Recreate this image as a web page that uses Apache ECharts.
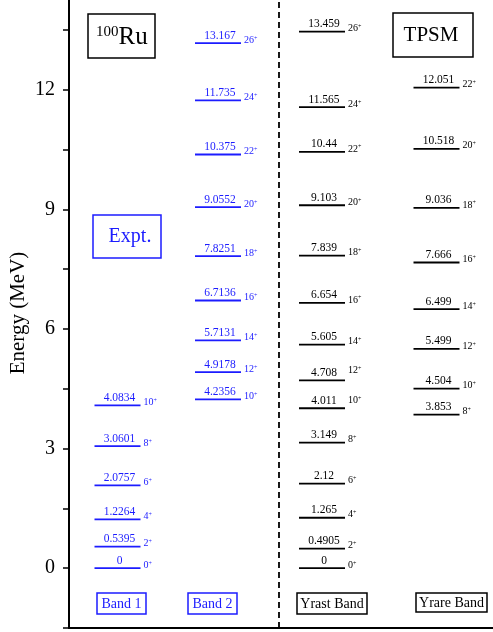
<!DOCTYPE html>
<html>
<head>
<meta charset="utf-8">
<script src="https://cdn.jsdelivr.net/npm/echarts@6/dist/echarts.min.js"></script>
<style>
html,body{margin:0;padding:0;background:#fff;}
#chart{width:493px;height:632px;}
</style>
</head>
<body>
<div id="chart"></div>
<script>
// ---- data ----
const band1Energy = [0, 0.5395, 1.2264, 2.0757, 3.0601, 4.0834];
const band1Spin   = [0, 2, 4, 6, 8, 10];
const band2Energy = [4.2356, 4.9178, 5.7131, 6.7136, 7.8251, 9.0552, 10.375, 11.735, 13.167];
const band2Spin   = [10, 12, 14, 16, 18, 20, 22, 24, 26];
const yrastEnergy = [0, 0.4905, 1.265, 2.12, 3.149, 4.011, 4.708, 5.605, 6.654, 7.839, 9.103, 10.44, 11.565, 13.459];
const yrastSpin   = [0, 2, 4, 6, 8, 10, 12, 14, 16, 18, 20, 22, 24, 26];
const yrareEnergy = [3.853, 4.504, 5.499, 6.499, 7.666, 9.036, 10.518, 12.051];
const yrareSpin   = [8, 10, 12, 14, 16, 18, 20, 22];
const yTicks = [0, 3, 6, 9, 12];
const yMinorTicks = [-1.5, 1.5, 4.5, 7.5, 10.5, 13.5];
const bandNames = ['Band 1', 'Band 2', 'Yrast Band', 'Yrare Band'];
const yAxisTitle = 'Energy (MeV)';

// ---- layout / style ----
const FONT = '"Liberation Serif", "Times New Roman", serif';
const BLUE = '#1c1cff';
const BLACK = '#000';
const colX = [48.5, 149, 253, 367.5];   // column centres on hidden x axis (px from y axis)
const divider = 210;
const HALF = 23;
// extra raise (px) for crowded spin labels: key "series:spin"
const spinNudge = {'2:12': -7, '2:10': -5};

function makeSeries(idx, energies, spins, color) {
  return {
    type: 'custom',
    coordinateSystem: 'cartesian2d',
    data: energies.map((e, i) => [colX[idx], e, spins[i]]),
    encode: {x: 0, y: 1},
    renderItem: function (params, api) {
      const e = api.value(1);
      const spin = api.value(2);
      const p = api.coord([api.value(0), e]);
      const nudge = spinNudge[idx + ':' + spin] || 0;
      return {
        type: 'group',
        children: [
          {type: 'line', shape: {x1: p[0] - HALF, y1: p[1], x2: p[0] + HALF, y2: p[1]},
           style: {stroke: color, lineWidth: 1.8}},
          {type: 'text', style: {text: String(e), x: p[0] + 2, y: p[1] - 1.5,
            align: 'center', verticalAlign: 'bottom', fill: color,
            font: '11.5px ' + FONT}},
          {type: 'text', style: {text: '{n|' + spin + '}{s|+}', x: p[0] + HALF + 3, y: p[1] - 3 + nudge,
            align: 'left', verticalAlign: 'middle', fill: color,
            rich: {
              n: {fontSize: 10, fontFamily: FONT, fill: color, verticalAlign: 'bottom'},
              s: {fontSize: 6, fontFamily: FONT, fill: color, verticalAlign: 'top'}
            }}}
        ]
      };
    }
  };
}

const chart = echarts.init(document.getElementById('chart'), null, {renderer: 'canvas'});

const boxStyle = (c) => ({fill: 'none', stroke: c, lineWidth: 1.5});
const graphics = [
  {type: 'text', x: 18, y: 313, rotation: Math.PI / 2,
   style: {x: 0, y: 0, text: yAxisTitle, align: 'center', verticalAlign: 'middle',
     font: '21px ' + FONT, fill: BLACK}},
  {type: 'rect', shape: {x: 88, y: 14, width: 67, height: 44}, style: boxStyle(BLACK)},
  {type: 'text', style: {x: 96, y: 50, text: '{a|100}{b|Ru}', align: 'left', verticalAlign: 'bottom',
    rich: {a: {fontSize: 15, fontFamily: FONT, fill: BLACK, verticalAlign: 'top'},
           b: {fontSize: 25, fontFamily: FONT, fill: BLACK, verticalAlign: 'bottom'}}}},
  {type: 'rect', shape: {x: 393, y: 13, width: 80, height: 44}, style: boxStyle(BLACK)},
  {type: 'text', style: {x: 431, y: 35, text: 'TPSM', align: 'center', verticalAlign: 'middle',
    font: '21px ' + FONT, fill: BLACK}},
  {type: 'rect', shape: {x: 93, y: 215, width: 68, height: 43}, style: boxStyle(BLUE)},
  {type: 'text', style: {x: 130, y: 237, text: 'Expt.', align: 'center', verticalAlign: 'middle',
    font: '20px ' + FONT, fill: BLUE}},
  {type: 'rect', shape: {x: 97, y: 593, width: 49, height: 21}, style: boxStyle(BLUE)},
  {type: 'text', style: {x: 121.5, y: 604, text: bandNames[0], align: 'center', verticalAlign: 'middle',
    font: '14px ' + FONT, fill: BLUE}},
  {type: 'rect', shape: {x: 188, y: 593, width: 49, height: 21}, style: boxStyle(BLUE)},
  {type: 'text', style: {x: 212.5, y: 604, text: bandNames[1], align: 'center', verticalAlign: 'middle',
    font: '14px ' + FONT, fill: BLUE}},
  {type: 'rect', shape: {x: 297, y: 593, width: 70, height: 21}, style: boxStyle(BLACK)},
  {type: 'text', style: {x: 332, y: 604, text: bandNames[2], align: 'center', verticalAlign: 'middle',
    font: '14px ' + FONT, fill: BLACK}},
  {type: 'rect', shape: {x: 416, y: 593, width: 71, height: 19}, style: boxStyle(BLACK)},
  {type: 'text', style: {x: 451.5, y: 603, text: bandNames[3], align: 'center', verticalAlign: 'middle',
    font: '14px ' + FONT, fill: BLACK}}
];

const series = [
  makeSeries(0, band1Energy, band1Spin, BLUE),
  makeSeries(1, band2Energy, band2Spin, BLUE),
  makeSeries(2, yrastEnergy, yrastSpin, BLACK),
  makeSeries(3, yrareEnergy, yrareSpin, BLACK)
];
series[0].markLine = {
  silent: true, symbol: ['none', 'none'], label: {show: false},
  lineStyle: {color: BLACK, width: 1.8, type: [6, 4]},
  data: [{xAxis: divider}]
};

const allTicks = yTicks.concat(yMinorTicks).sort((a, b) => a - b);

chart.setOption({
  animation: false,
  backgroundColor: '#fff',
  grid: {left: 69, right: 0, top: 0, bottom: 4, containLabel: false, outerBoundsMode: 'none'},
  xAxis: {
    type: 'value', min: 0, max: 424,
    axisLine: {show: true, onZero: false, lineStyle: {color: BLACK, width: 2}},
    axisTick: {show: false}, axisLabel: {show: false}, splitLine: {show: false}
  },
  yAxis: {
    type: 'value', min: -1.5, max: 14.25, interval: 1.5,
    axisLine: {show: true, onZero: false, lineStyle: {color: BLACK, width: 2}},
    axisTick: {show: true, inside: false, length: 6, customValues: allTicks,
      lineStyle: {color: BLACK, width: 1.5}},
    axisLabel: {
      margin: 14, fontFamily: FONT, fontSize: 20, color: BLACK, customValues: yTicks,
      formatter: v => String(Math.round(v))
    },
    splitLine: {show: false}
  },
  graphic: graphics,
  series: series
});
</script>
</body>
</html>
